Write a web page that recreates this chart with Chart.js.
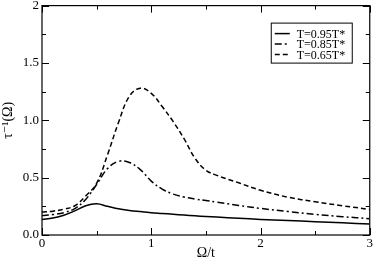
<!DOCTYPE html>
<html>
<head>
<meta charset="utf-8">
<script src="https://cdn.jsdelivr.net/npm/chart.js@4"></script>
<style>
  body { margin: 0; background: #fff; }
  #wrap { width: 374px; height: 262px; }
</style>
</head>
<body>
<div id="wrap"><canvas id="myChart"></canvas></div>
<script>
// datos
const omega  = [0, 0.1, 0.2, 0.3, 0.4, 0.5, 0.6, 0.7, 0.8, 0.9, 1.0, 1.1, 1.2, 1.3, 1.4, 1.5, 1.6, 1.8, 2.0, 2.25, 2.5, 2.75, 3.0]
const tau095 = [0.135, 0.148, 0.172, 0.21, 0.255, 0.272, 0.25, 0.228, 0.214, 0.204, 0.195, 0.188, 0.181, 0.174, 0.167, 0.161, 0.156, 0.146, 0.136, 0.126, 0.116, 0.106, 0.096]
const tau085 = [0.17, 0.178, 0.195, 0.23, 0.31, 0.44, 0.58, 0.642, 0.632, 0.57, 0.47, 0.4, 0.357, 0.331, 0.314, 0.3, 0.287, 0.258, 0.232, 0.205, 0.18, 0.16, 0.142]
const tau065 = [0.2, 0.208, 0.225, 0.255, 0.34, 0.45, 0.7, 0.98, 1.21, 1.28, 1.235, 1.12, 0.99, 0.84, 0.67, 0.565, 0.52, 0.455, 0.39, 0.33, 0.29, 0.255, 0.223]
const etiquetas = ['T=0.95T*', 'T=0.85T*', 'T=0.65T*']
const xLabels = [0, 1, 2, 3]
const yLabels = {0: '0.0', 0.5: '0.5', 1: '1.0', 1.5: '1.5', 2: '2'}

const serif = "'Liberation Serif', 'DejaVu Serif', serif"
const pts = (ys) => omega.map((x, i) => ({x: x, y: ys[i]}))

// ticks hacia adentro + marco + leyenda
const marco = {
  id: 'marco',
  afterDraw(chart) {
    const {ctx, chartArea: a, scales} = chart
    ctx.save()
    ctx.strokeStyle = '#000'
    ctx.lineWidth = 1.2
    ctx.strokeRect(a.left, a.top, a.right - a.left, a.bottom - a.top)
    ctx.lineWidth = 1
    ctx.beginPath()
    scales.x.ticks.forEach(t => {
      const px = Math.round(scales.x.getPixelForValue(t.value)) + 0.5
      const l = Number.isInteger(t.value) ? 7 : 4
      ctx.moveTo(px, a.bottom); ctx.lineTo(px, a.bottom - l)
      ctx.moveTo(px, a.top); ctx.lineTo(px, a.top + l)
    })
    scales.y.ticks.forEach(t => {
      const py = Math.round(scales.y.getPixelForValue(t.value)) + 0.5
      const l = (Math.round(t.value * 100) % 50 === 0) ? 7 : 4
      ctx.moveTo(a.left, py); ctx.lineTo(a.left + l, py)
      ctx.moveTo(a.right, py); ctx.lineTo(a.right - l, py)
    })
    ctx.stroke()

    // leyenda
    const bx = a.right - 99, by = a.top + 17, bw = 81, bh = 40
    ctx.fillStyle = '#fff'
    ctx.fillRect(bx, by, bw, bh)
    ctx.strokeStyle = '#000'
    ctx.lineWidth = 1
    ctx.strokeRect(bx + 0.5, by + 0.5, bw, bh)
    ctx.font = '12px ' + serif
    ctx.textBaseline = 'middle'
    ctx.fillStyle = '#000'
    chart.data.datasets.forEach((ds, i) => {
      const yy = by + 11 + i * 10.5
      ctx.setLineDash(ds.borderDash || [])
      ctx.lineWidth = 1.5
      ctx.beginPath()
      ctx.moveTo(bx + 4, yy); ctx.lineTo(bx + 19, yy)
      ctx.stroke()
      ctx.setLineDash([])
      ctx.fillText(ds.label, bx + 26, yy + 1)
    })
    ctx.restore()
  }
}

const ctx = document.getElementById('myChart')
window.myChart = new Chart(ctx, {
  type: 'line',
  data: {
    datasets: [
      {label: etiquetas[0], data: pts(tau095), borderColor: '#000', borderWidth: 1.5, borderDash: []},
      {label: etiquetas[1], data: pts(tau085), borderColor: '#000', borderWidth: 1.5, borderDash: [7, 3, 2, 3]},
      {label: etiquetas[2], data: pts(tau065), borderColor: '#000', borderWidth: 1.5, borderDash: [5, 3]}
    ]
  },
  options: {
    responsive: true,
    maintainAspectRatio: false,
    animation: false,
    layout: {padding: {top: 5, right: 4, left: 0, bottom: 0}},
    elements: {point: {radius: 0}, line: {tension: 0.4, fill: false}},
    plugins: {legend: {display: false}, tooltip: {enabled: false}},
    scales: {
      x: {
        type: 'linear', min: 0, max: 3,
        grid: {display: false, drawTicks: false},
        border: {display: false},
        ticks: {
          stepSize: 0.5, autoSkip: false, maxRotation: 0, padding: 1,
          color: '#000', font: {family: serif, size: 13},
          callback: v => xLabels.includes(v) ? String(v) : ''
        },
        title: {display: true, text: 'Ω/t', color: '#000', font: {family: serif, size: 14}, padding: {top: 0, bottom: 0}},
        afterFit: s => { s.height = 27 }
      },
      y: {
        min: 0, max: 2,
        grid: {display: false, drawTicks: false},
        border: {display: false},
        ticks: {
          stepSize: 0.25, autoSkip: false, padding: 3,
          color: '#000', font: {family: serif, size: 13, lineHeight: 0.4},
          callback: v => (yLabels[v] !== undefined ? yLabels[v] : '')
        },
        title: {display: true, text: 'τ⁻¹(Ω)', color: '#000', font: {family: serif, size: 14}, padding: {top: 0, bottom: 0}},
        afterFit: s => { s.width = 42 }
      }
    }
  },
  plugins: [marco]
})
</script>
</body>
</html>
